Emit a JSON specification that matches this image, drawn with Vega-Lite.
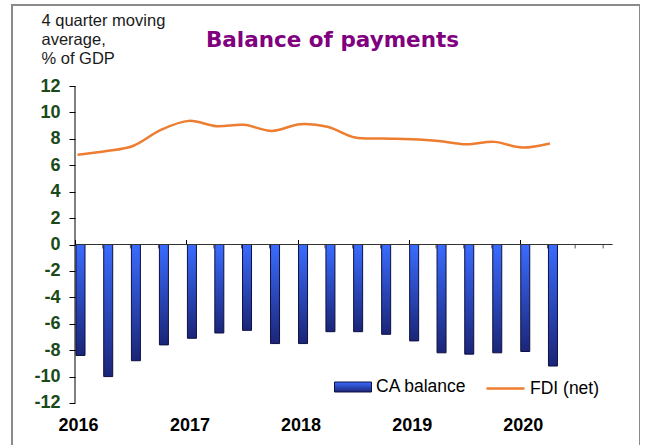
{
  "$schema": "https://vega.github.io/schema/vega-lite/v6.json",
  "width": 628,
  "height": 450,
  "autosize": "none",
  "padding": {"left": 12, "top": 5, "right": 0, "bottom": 0},
  "background": "white",
  "title": {
    "text": "Balance of payments",
    "frame": "group",
    "anchor": "middle",
    "orient": "top",
    "offset": 0,
    "baseline": "alphabetic",
    "dx": 6.5,
    "dy": 63.5,
    "font": "DejaVu Sans",
    "fontSize": 21.5,
    "fontWeight": "bold",
    "color": "#800080"
  },
  "datasets": {
    "bop": [
      {"date": "2016-01-01", "ca": -8.4, "fdi": 6.8},
      {"date": "2016-04-01", "ca": -10.0, "fdi": 7.06},
      {"date": "2016-07-01", "ca": -8.8, "fdi": 7.46},
      {"date": "2016-10-01", "ca": -7.6, "fdi": 8.68},
      {"date": "2017-01-01", "ca": -7.1, "fdi": 9.36},
      {"date": "2017-04-01", "ca": -6.7, "fdi": 8.96},
      {"date": "2017-07-01", "ca": -6.5, "fdi": 9.06},
      {"date": "2017-10-01", "ca": -7.5, "fdi": 8.6},
      {"date": "2018-01-01", "ca": -7.5, "fdi": 9.11},
      {"date": "2018-04-01", "ca": -6.6, "fdi": 8.91},
      {"date": "2018-07-01", "ca": -6.6, "fdi": 8.1},
      {"date": "2018-10-01", "ca": -6.8, "fdi": 8.02},
      {"date": "2019-01-01", "ca": -7.3, "fdi": 7.97},
      {"date": "2019-04-01", "ca": -8.2, "fdi": 7.84},
      {"date": "2019-07-01", "ca": -8.3, "fdi": 7.59},
      {"date": "2019-10-01", "ca": -8.2, "fdi": 7.77},
      {"date": "2020-01-01", "ca": -8.1, "fdi": 7.34},
      {"date": "2020-04-01", "ca": -9.2, "fdi": 7.65}
    ],
    "qticks": [
      {"date": "2016-04-01"}, {"date": "2016-07-01"}, {"date": "2016-10-01"},
      {"date": "2017-04-01"}, {"date": "2017-07-01"}, {"date": "2017-10-01"},
      {"date": "2018-04-01"}, {"date": "2018-07-01"}, {"date": "2018-10-01"},
      {"date": "2019-04-01"}, {"date": "2019-07-01"}, {"date": "2019-10-01"},
      {"date": "2020-04-01"}, {"date": "2020-07-01"}, {"date": "2020-10-01"}
    ]
  },
  "layer": [
    {
      "data": {"name": "qticks"},
      "mark": {"type": "rule", "color": "#555555", "strokeWidth": 1},
      "encoding": {
        "x": {
          "field": "date", "type": "temporal",
          "scale": {"type": "utc", "domain": [{"year": 2015, "month": 6, "date": 8, "utc": true}, {"year": 2021, "month": 1, "date": 30, "utc": true}], "nice": false, "padding": 0},
          "axis": {
            "orient": "top", "offset": -239.5,
            "values": [{"year": 2016, "month": 1, "date": 1, "utc": true}, {"year": 2017, "month": 1, "date": 1, "utc": true}, {"year": 2018, "month": 1, "date": 1, "utc": true}, {"year": 2019, "month": 1, "date": 1, "utc": true}, {"year": 2020, "month": 1, "date": 1, "utc": true}],
            "labels": false, "domain": false, "grid": false, "title": null,
            "ticks": true, "tickSize": 5, "tickColor": "#000000", "tickWidth": 1
          }
        },
        "y": {"datum": 0, "type": "quantitative", "scale": {"domain": [-15.937, 18.133], "nice": false, "zero": false}},
        "y2": {"datum": -0.3}
      }
    },
    {
      "data": {"name": "bop"},
      "mark": {"type": "bar", "width": 9, "xOffset": 5.5, "strokeWidth": 1,
        "fill": {"gradient": "linear", "x1": 0, "y1": 0, "x2": 0, "y2": 1, "stops": [{"offset": 0, "color": "#3a6cff"}, {"offset": 1, "color": "#1b2577"}]}},
      "encoding": {
        "x": {
          "field": "date", "type": "temporal",
          "axis": {
            "orient": "bottom", "offset": -30,
            "values": [{"year": 2016, "month": 1, "date": 1, "utc": true}, {"year": 2017, "month": 1, "date": 1, "utc": true}, {"year": 2018, "month": 1, "date": 1, "utc": true}, {"year": 2019, "month": 1, "date": 1, "utc": true}, {"year": 2020, "month": 1, "date": 1, "utc": true}],
            "format": "%Y", "domain": false, "ticks": false, "tickSize": 0, "grid": false, "title": null,
            "labelFont": "Liberation Sans", "labelFontSize": 18, "labelFontWeight": "bold", "labelColor": "#000000",
            "labelPadding": 5, "labelBaseline": "alphabetic", "labelOffset": 3, "labelFlush": false, "labelOverlap": false
          }
        },
        "y": {
          "field": "ca", "type": "quantitative",
          "axis": {
            "orient": "left", "offset": -63,
            "values": [-12, -10, -8, -6, -4, -2, 0, 2, 4, 6, 8, 10, 12],
            "tickCount": 30,
            "labelExpr": "datum.value < 0 ? '-' + abs(datum.value) : '' + datum.value",
            "labelOverlap": false, "labelFlush": false,
            "domain": false, "grid": false, "tickSize": 6, "tickColor": "#000000",
            "labelFont": "Liberation Sans", "labelFontSize": 18, "labelFontWeight": "bold", "labelColor": "#1a4a1a", "labelPadding": 9,
            "title": ["4 quarter moving", "average,", "% of GDP"],
            "titleAngle": 0, "titleAlign": "left", "titleBaseline": "top", "titleX": -34, "titleY": 7,
            "titleFont": "Liberation Sans", "titleFontSize": 16.5, "titleFontWeight": "normal", "titleColor": "#1a1a1a", "titleLineHeight": 19
          }
        },
        "stroke": {
          "datum": "CA balance",
          "scale": {"range": ["#0d1040"]},
          "legend": {
            "orient": "none", "legendX": 322, "legendY": 363, "direction": "horizontal", "title": null,
            "symbolType": "M-1,-0.27L1,-0.27L1,0.27L-1,0.27Z", "symbolSize": 1369, "symbolStrokeWidth": 1,
            "encode": {"symbols": {"update": {"fill": {"value": {"gradient": "linear", "x1": 0, "y1": 0, "x2": 0, "y2": 1, "stops": [{"offset": 0, "color": "#3a6cff"}, {"offset": 1, "color": "#1b2577"}]}}, "fillOpacity": {"value": 1}}}}
          }
        }
      }
    },
    {
      "data": {"name": "bop"},
      "mark": {"type": "line", "interpolate": "catmull-rom", "strokeWidth": 2.5, "xOffset": 2.5},
      "encoding": {
        "x": {"field": "date", "type": "temporal", "axis": null},
        "y": {"field": "fdi", "type": "quantitative"},
        "color": {
          "datum": "FDI (net)",
          "scale": {"range": ["#ED7D31"]},
          "legend": {
            "orient": "none", "legendX": 473, "legendY": 363, "direction": "horizontal", "title": null,
            "symbolType": "stroke", "symbolSize": 1444, "symbolStrokeWidth": 2.5
          }
        }
      }
    },
    {
      "data": {"values": [{}]},
      "mark": {"type": "rule", "color": "#333333", "strokeWidth": 1},
      "encoding": {
        "x": {"datum": {"year": 2016, "month": 1, "date": 1, "utc": true}, "type": "temporal", "axis": null},
        "x2": {"datum": {"year": 2020, "month": 11, "date": 1, "utc": true}},
        "y": {"datum": 0, "type": "quantitative"}
      }
    },
    {
      "data": {"values": [{}]},
      "mark": {"type": "rule", "color": "#000000", "strokeWidth": 1},
      "encoding": {
        "x": {"datum": {"year": 2016, "month": 1, "date": 1, "utc": true}, "type": "temporal", "axis": null},
        "y": {"datum": 12, "type": "quantitative"},
        "y2": {"datum": -12}
      }
    }
  ],
  "resolve": {"axis": {"x": "independent"}},
  "config": {
    "view": {"stroke": "#8a8a8a", "strokeWidth": 2},
    "legend": {"padding": 0, "labelFont": "Liberation Sans", "labelFontSize": 17.5, "labelColor": "#000000", "labelOffset": 4},
    "axis": {"grid": false}
  }
}
